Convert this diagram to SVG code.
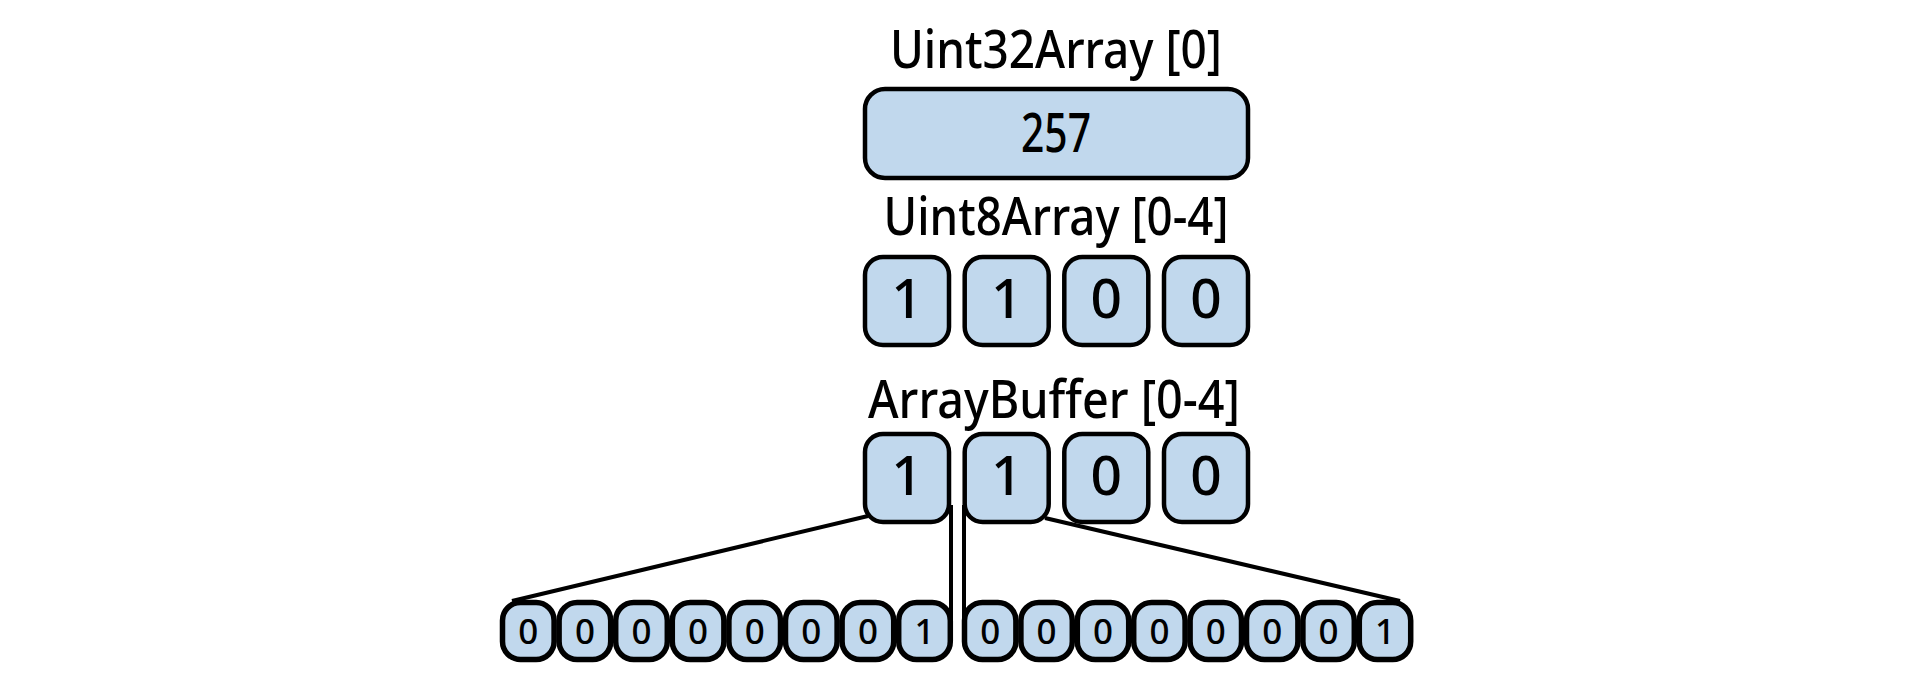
<svg xmlns="http://www.w3.org/2000/svg" width="1920" height="686" viewBox="0 0 1920 686">
<style>
.box{fill:#c1d8ed;stroke:#000;stroke-width:4.5}
.sbox{fill:#c1d8ed;stroke:#000;stroke-width:5.5}
.lbl{font-family:"Noto Sans","Open Sans",sans-serif;font-weight:500;font-size:52px;fill:#000;text-anchor:middle}
.dig{font-family:"Noto Sans","Open Sans",sans-serif;font-weight:500;font-size:55px;fill:#000;text-anchor:middle}
.sdig{font-family:"Noto Sans","Open Sans",sans-serif;font-weight:500;font-size:35px;fill:#000;text-anchor:middle}
.con{stroke:#000;stroke-width:4;fill:none}
</style>
<rect width="1920" height="686" fill="#fff"/>
<g id="connectors">
<line class="con" x1="868" y1="516" x2="512" y2="601"/>
<line class="con" x1="1045" y1="518" x2="1400" y2="601"/>
<line class="con" x1="951" y1="505" x2="951" y2="625"/>
<line class="con" x1="964" y1="505" x2="964" y2="625"/>
</g>
<g id="uint32">
<text class="lbl" x="1056" y="68" textLength="332" lengthAdjust="spacingAndGlyphs">Uint32Array [0]</text>
<rect class="box" x="865" y="89" width="383" height="89" rx="20"/>
<text class="dig" x="1056" y="152" textLength="70" lengthAdjust="spacingAndGlyphs">257</text>
</g>
<g id="uint8">
<text class="lbl" x="1056" y="235" textLength="345" lengthAdjust="spacingAndGlyphs">Uint8Array [0-4]</text>
<rect class="box" x="865" y="257" width="84" height="88" rx="18"/>
<rect class="box" x="964.7" y="257" width="84" height="88" rx="18"/>
<rect class="box" x="1064.3" y="257" width="84" height="88" rx="18"/>
<rect class="box" x="1164" y="257" width="84" height="88" rx="18"/>
<text class="dig" x="907" y="318">1</text>
<text class="dig" x="1006.7" y="318">1</text>
<text class="dig" x="1106.3" y="318">0</text>
<text class="dig" x="1206" y="318">0</text>
</g>
<g id="arraybuffer">
<text class="lbl" x="1054" y="418" textLength="372" lengthAdjust="spacingAndGlyphs">ArrayBuffer [0-4]</text>
<rect class="box" x="865" y="434" width="84" height="88" rx="18"/>
<rect class="box" x="964.7" y="434" width="84" height="88" rx="18"/>
<rect class="box" x="1064.3" y="434" width="84" height="88" rx="18"/>
<rect class="box" x="1164" y="434" width="84" height="88" rx="18"/>
<text class="dig" x="907" y="495">1</text>
<text class="dig" x="1006.7" y="495">1</text>
<text class="dig" x="1106.3" y="495">0</text>
<text class="dig" x="1206" y="495">0</text>
</g>
<g id="bits-byte0">
<rect class="sbox" x="502.5" y="602.5" width="51.6" height="57" rx="18"/>
<rect class="sbox" x="559.1" y="602.5" width="51.6" height="57" rx="18"/>
<rect class="sbox" x="615.7" y="602.5" width="51.6" height="57" rx="18"/>
<rect class="sbox" x="672.3" y="602.5" width="51.6" height="57" rx="18"/>
<rect class="sbox" x="728.9" y="602.5" width="51.6" height="57" rx="18"/>
<rect class="sbox" x="785.5" y="602.5" width="51.6" height="57" rx="18"/>
<rect class="sbox" x="842.1" y="602.5" width="51.6" height="57" rx="18"/>
<rect class="sbox" x="898.7" y="602.5" width="51.6" height="57" rx="18"/>
<text class="sdig" x="528.3" y="644">0</text>
<text class="sdig" x="584.9" y="644">0</text>
<text class="sdig" x="641.5" y="644">0</text>
<text class="sdig" x="698.1" y="644">0</text>
<text class="sdig" x="754.7" y="644">0</text>
<text class="sdig" x="811.3" y="644">0</text>
<text class="sdig" x="867.9" y="644">0</text>
<text class="sdig" x="924.5" y="644">1</text>
</g>
<g id="bits-byte1">
<rect class="sbox" x="964.5" y="602.5" width="51.4" height="57" rx="18"/>
<rect class="sbox" x="1020.9" y="602.5" width="51.4" height="57" rx="18"/>
<rect class="sbox" x="1077.3" y="602.5" width="51.4" height="57" rx="18"/>
<rect class="sbox" x="1133.7" y="602.5" width="51.4" height="57" rx="18"/>
<rect class="sbox" x="1190.1" y="602.5" width="51.4" height="57" rx="18"/>
<rect class="sbox" x="1246.5" y="602.5" width="51.4" height="57" rx="18"/>
<rect class="sbox" x="1302.9" y="602.5" width="51.4" height="57" rx="18"/>
<rect class="sbox" x="1359.3" y="602.5" width="51.4" height="57" rx="18"/>
<text class="sdig" x="990.2" y="644">0</text>
<text class="sdig" x="1046.6" y="644">0</text>
<text class="sdig" x="1103" y="644">0</text>
<text class="sdig" x="1159.4" y="644">0</text>
<text class="sdig" x="1215.8" y="644">0</text>
<text class="sdig" x="1272.2" y="644">0</text>
<text class="sdig" x="1328.6" y="644">0</text>
<text class="sdig" x="1385" y="644">1</text>
</g>
</svg>
